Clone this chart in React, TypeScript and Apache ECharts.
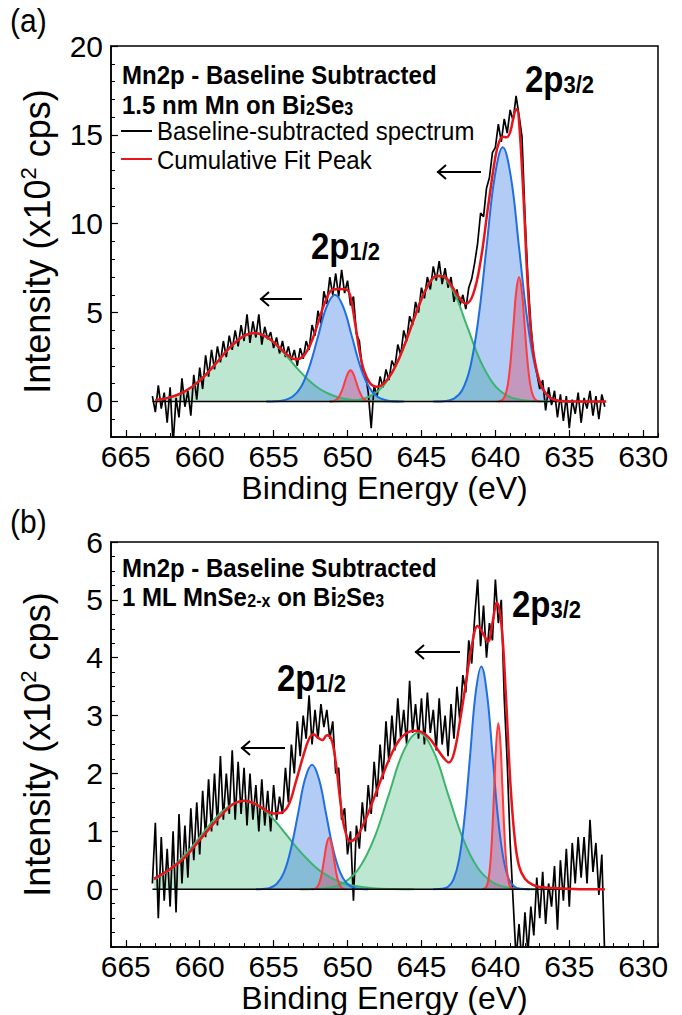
import React, { useEffect, useRef } from 'react';
import * as echarts from 'echarts';

const FONT = '"Liberation Sans", Arial, Helvetica, sans-serif';

const xTicks = [630, 635, 640, 645, 650, 655, 660, 665];
const yTicksA = [0, 5, 10, 15, 20];
const yTicksB = [0, 1, 2, 3, 4, 5, 6];

// ---------- Panel (a): 1.5 nm Mn on Bi2Se3 ----------
const aSpectrum = [[663.2,0.3],[663.0,-0.6],[662.8,0.9],[662.6,-0.4],[662.4,0.5],[662.2,-1.2],[662.0,0.8],[661.8,-2.4],[661.6,0.2],[661.4,-0.9],[661.2,1.3],[661.0,-0.3],[660.8,0.6],[660.6,-0.8],[660.4,1.5],[660.2,0.1],[660.0,1.9],[659.8,0.7],[659.6,2.6],[659.4,1.4],[659.2,2.9],[659.0,1.8],[658.8,3.1],[658.6,2.2],[658.4,3.4],[658.2,2.5],[658.0,3.7],[657.8,2.9],[657.6,4.0],[657.4,3.1],[657.2,4.3],[657.0,3.4],[656.8,4.9],[656.6,3.3],[656.4,4.5],[656.2,3.6],[656.0,4.9],[655.8,3.2],[655.6,4.2],[655.4,3.5],[655.2,3.9],[655.0,3.0],[654.8,3.6],[654.6,2.7],[654.4,3.4],[654.2,2.5],[654.0,3.1],[653.8,2.3],[653.6,2.9],[653.4,2.0],[653.2,3.0],[653.0,2.4],[652.8,3.4],[652.6,2.9],[652.4,4.3],[652.2,3.7],[652.0,5.1],[651.8,4.4],[651.6,6.2],[651.4,5.5],[651.2,7.0],[651.0,6.0],[650.8,7.2],[650.6,5.9],[650.4,7.4],[650.2,6.1],[650.0,6.8],[649.8,5.4],[649.6,5.9],[649.4,3.8],[649.2,3.4],[649.0,1.8],[648.8,1.6],[648.6,0.5],[648.4,-1.5],[648.2,0.9],[648.0,0.3],[647.8,1.4],[647.6,0.8],[647.4,1.8],[647.2,1.2],[647.0,2.3],[646.8,1.9],[646.6,3.2],[646.4,2.6],[646.2,4.0],[646.0,3.4],[645.8,4.8],[645.6,4.3],[645.4,5.6],[645.2,5.0],[645.0,6.4],[644.8,5.8],[644.6,7.0],[644.4,6.3],[644.2,7.6],[644.0,6.8],[643.8,7.9],[643.6,6.6],[643.4,7.5],[643.2,6.4],[643.0,7.0],[642.8,5.6],[642.6,6.3],[642.4,5.4],[642.2,6.0],[642.0,5.2],[641.8,6.4],[641.6,6.9],[641.4,7.8],[641.2,8.9],[641.0,10.6],[640.8,10.4],[640.6,12.0],[640.4,12.6],[640.2,14.0],[640.0,14.3],[639.8,15.6],[639.6,14.6],[639.4,15.9],[639.2,15.1],[639.0,16.4],[638.8,15.8],[638.6,17.2],[638.4,16.1],[638.2,14.9],[638.0,10.5],[637.8,6.9],[637.6,4.3],[637.4,2.5],[637.2,1.6],[637.0,0.7],[636.8,1.2],[636.6,-0.5],[636.4,0.8],[636.2,-0.2],[636.0,0.6],[635.8,-0.9],[635.6,0.4],[635.4,-1.1],[635.2,0.3],[635.0,-1.5],[634.8,0.1],[634.6,-0.7],[634.4,0.5],[634.2,-1.2],[634.0,0.2],[633.8,-0.4],[633.6,0.6],[633.4,-0.8],[633.2,0.3],[633.0,-1.0],[632.8,0.4],[632.6,-0.3]];

const aGreen1 = [[663,0.08],[662.3,0.17],[661.7,0.31],[661.1,0.52],[660.5,0.83],[659.9,1.25],[659.3,1.76],[658.7,2.34],[658.1,2.91],[657.5,3.40],[656.9,3.73],[656.3,3.85],[655.7,3.73],[655.1,3.40],[654.5,2.91],[653.9,2.34],[653.3,1.76],[652.7,1.25],[652.1,0.83],[651.5,0.52],[650.9,0.31],[650.3,0.17],[649.1,0.04],[647.9,0.01],[646.5,0]];
const aBlue1 = [[655.5,0],[654.88,0.01],[654.3,0.07],[653.73,0.26],[653.15,0.81],[652.58,1.95],[652.0,3.64],[651.43,5.30],[650.85,6.0],[650.28,5.30],[649.7,3.64],[649.13,1.95],[648.55,0.81],[647.98,0.26],[647.4,0.07],[646.83,0.01],[646.2,0]];
const aRed1 = [[651.2,0],[651.0,0.02],[650.8,0.08],[650.6,0.24],[650.4,0.57],[650.2,1.06],[650.0,1.54],[649.8,1.75],[649.6,1.54],[649.4,1.06],[649.2,0.57],[649.0,0.24],[648.8,0.08],[648.6,0.02],[648.4,0]];
const aGreen2 = [[651.2,0],[650.28,0.02],[649.35,0.08],[648.43,0.31],[647.5,0.96],[646.58,2.31],[645.65,4.31],[644.73,6.27],[643.8,7.1],[642.88,6.27],[641.95,4.31],[641.03,2.31],[640.1,0.96],[639.18,0.31],[638.25,0.08],[637.33,0.02],[636.4,0]];
const aBlue2 = [[644.2,0],[643.35,0.03],[642.8,0.16],[642.25,0.63],[641.7,1.93],[641.15,4.64],[640.6,8.67],[640.05,12.62],[639.5,14.3],[638.95,12.62],[638.4,8.67],[637.85,4.64],[637.3,1.93],[636.75,0.63],[636.2,0.16],[635.65,0.03],[634.8,0]];
const aRed2 = [[639.8,0],[639.54,0.08],[639.35,0.31],[639.16,0.95],[638.97,2.27],[638.78,4.25],[638.59,6.18],[638.4,7.0],[638.21,6.18],[638.02,4.25],[637.83,2.27],[637.64,0.95],[637.45,0.31],[637.26,0.08],[637.0,0]];
const aCumulative = [[663,0.08],[662,0.23],[661,0.57],[660,1.17],[659,2.04],[658,3.0],[657,3.69],[656.3,3.85],[655.5,3.64],[655,3.33],[654.5,2.95],[654,2.57],[653.5,2.37],[653,2.54],[652.5,3.24],[652,4.41],[651.5,5.63],[651,6.30],[650.5,6.33],[650,6.26],[649.75,5.67],[649.5,4.46],[649,2.06],[648.5,1.05],[648,0.83],[647.5,1.05],[647,1.61],[646.5,2.45],[646,3.50],[645.5,4.66],[645,5.75],[644.5,6.61],[644,7.06],[643.5,7.03],[643,6.56],[642.5,5.90],[642,5.50],[641.5,6.04],[641,7.90],[640.5,10.92],[640,13.76],[639.75,14.59],[639.5,14.89],[639.25,14.86],[639,15.16],[638.7,16.26],[638.55,16.46],[638.4,15.77],[638.1,11.54],[637.8,6.38],[637.5,3.17],[637,1.09],[636.5,0.35],[636,0.09],[635.5,0.02],[635,0],[632.5,0]];

// ---------- Panel (b): 1 ML MnSe2-x on Bi2Se3 ----------
const bSpectrum = [[663.2,0.1],[663.0,1.15],[662.8,-0.5],[662.6,0.9],[662.4,-0.2],[662.2,0.7],[662.0,-0.3],[661.8,1.0],[661.6,-0.4],[661.4,1.3],[661.2,0.1],[661.0,1.1],[660.8,0.2],[660.6,1.4],[660.4,0.5],[660.2,1.5],[660.0,0.6],[659.8,1.7],[659.6,0.9],[659.4,1.9],[659.2,1.0],[659.0,2.0],[658.8,1.1],[658.6,2.3],[658.4,1.2],[658.2,2.0],[658.0,1.3],[657.8,2.4],[657.6,1.2],[657.4,2.2],[657.2,1.3],[657.0,2.1],[656.8,1.1],[656.6,2.0],[656.4,1.2],[656.2,1.8],[656.0,1.0],[655.8,1.9],[655.6,1.1],[655.4,1.7],[655.2,1.0],[655.0,1.8],[654.8,1.2],[654.6,1.6],[654.4,1.3],[654.2,2.1],[654.0,1.5],[653.8,2.5],[653.6,2.0],[653.4,2.9],[653.2,2.3],[653.0,3.0],[652.8,2.6],[652.6,3.35],[652.4,2.5],[652.2,3.1],[652.0,2.6],[651.8,3.2],[651.6,2.8],[651.4,3.1],[651.2,2.6],[651.0,2.9],[650.8,2.0],[650.6,2.1],[650.4,1.2],[650.2,1.4],[650.0,0.6],[649.8,1.0],[649.6,-0.2],[649.4,1.1],[649.2,0.7],[649.0,1.5],[648.8,1.0],[648.6,1.8],[648.4,1.3],[648.2,2.2],[648.0,1.6],[647.8,2.5],[647.6,1.9],[647.4,2.9],[647.2,2.2],[647.0,3.0],[646.8,2.4],[646.6,3.3],[646.4,2.6],[646.2,3.1],[646.0,2.5],[645.8,3.6],[645.6,2.7],[645.4,3.2],[645.2,2.6],[645.0,3.3],[644.8,2.5],[644.6,3.4],[644.4,2.7],[644.2,3.1],[644.0,2.4],[643.8,3.3],[643.6,2.5],[643.4,3.0],[643.2,2.3],[643.0,3.2],[642.8,2.6],[642.6,3.5],[642.4,2.9],[642.2,3.7],[642.0,3.4],[641.8,4.3],[641.6,3.9],[641.4,4.7],[641.2,5.35],[641.0,4.2],[640.8,4.9],[640.6,4.0],[640.4,4.6],[640.2,4.3],[640.0,5.35],[639.8,4.6],[639.6,5.0],[639.4,3.3],[639.2,2.2],[639.0,0.8],[638.8,-0.2],[638.6,-1.2],[638.4,-0.6],[638.2,-1.3],[638.0,-0.4],[637.8,-1.1],[637.6,-0.3],[637.4,-0.8],[637.2,0.2],[637.0,-0.5],[636.8,0.3],[636.6,-0.6],[636.4,0.1],[636.2,-0.3],[636.0,0.4],[635.8,-0.7],[635.6,0.5],[635.4,-0.2],[635.2,0.7],[635.0,-0.3],[634.8,0.8],[634.6,0.1],[634.4,0.9],[634.2,0.2],[634.0,0.9],[633.8,0.1],[633.6,1.2],[633.4,0.3],[633.2,0.8],[633.0,-0.1],[632.8,0.6],[632.6,-1.2]];

const bGreen1 = [[663.1,0.17],[662.8,0.21],[662.08,0.33],[661.35,0.50],[660.63,0.70],[659.9,0.93],[659.18,1.16],[658.45,1.35],[657.73,1.48],[657.0,1.53],[656.28,1.48],[655.55,1.35],[654.83,1.16],[654.1,0.93],[653.38,0.70],[652.65,0.50],[651.93,0.33],[651.2,0.21],[650.48,0.12],[649.75,0.067],[648.3,0.017],[646.85,0.003],[645.5,0]];
const bBlue1 = [[656.2,0],[655.73,0.005],[655.25,0.024],[654.78,0.094],[654.3,0.29],[653.83,0.70],[653.35,1.30],[652.88,1.90],[652.4,2.15],[651.93,1.90],[651.45,1.30],[650.98,0.70],[650.5,0.29],[650.03,0.094],[649.55,0.024],[649.08,0.005],[648.6,0]];
const bRed1 = [[652.4,0],[652.21,0.01],[652.05,0.039],[651.89,0.12],[651.73,0.29],[651.57,0.54],[651.41,0.785],[651.25,0.89],[651.09,0.785],[650.93,0.54],[650.77,0.29],[650.61,0.12],[650.45,0.039],[650.29,0.01],[650.1,0]];
const bGreen2 = [[653.2,0],[652.2,0.006],[651.2,0.03],[650.2,0.12],[649.2,0.37],[648.2,0.88],[647.2,1.64],[646.2,2.39],[645.2,2.71],[644.2,2.39],[643.2,1.64],[642.2,0.88],[641.2,0.37],[640.2,0.12],[639.2,0.03],[638.2,0.006],[637.2,0]];
const bBlue2 = [[644.2,0],[643.58,0.008],[643.2,0.043],[642.83,0.17],[642.45,0.52],[642.08,1.25],[641.7,2.34],[641.33,3.40],[640.95,3.85],[640.58,3.40],[640.2,2.34],[639.83,1.25],[639.45,0.52],[639.08,0.17],[638.7,0.043],[638.33,0.008],[637.7,0]];
const bRed2 = [[640.85,0],[640.64,0.032],[640.5,0.126],[640.36,0.39],[640.22,0.93],[640.08,1.74],[639.94,2.53],[639.8,2.87],[639.66,2.53],[639.52,1.74],[639.38,0.93],[639.24,0.39],[639.1,0.126],[638.96,0.032],[638.75,0]];
const bCumulative = [[663.1,0.18],[662,0.35],[661,0.55],[660,0.85],[659,1.15],[658,1.42],[657.5,1.50],[657,1.53],[656.5,1.50],[656,1.44],[655.5,1.36],[655,1.31],[654.5,1.32],[654,1.45],[653.5,1.85],[653,2.30],[652.6,2.60],[652.3,2.68],[652,2.62],[651.7,2.58],[651.4,2.66],[651.1,2.60],[650.8,2.20],[650.5,1.55],[650.2,1.05],[649.8,0.83],[649.4,0.90],[649,1.08],[648.5,1.38],[648,1.72],[647.5,2.05],[647,2.35],[646.5,2.58],[646,2.70],[645.5,2.74],[645,2.72],[644.5,2.62],[644,2.45],[643.5,2.27],[643.15,2.19],[642.8,2.35],[642.4,2.9],[642,3.55],[641.6,4.2],[641.2,4.55],[640.9,4.45],[640.5,4.28],[640.2,4.6],[639.9,4.95],[639.6,4.6],[639.3,3.4],[639.0,1.9],[638.7,0.9],[638.4,0.4],[638,0.18],[637.5,0.08],[637,0.04],[636,0.02],[634,0],[632.6,0]];

const baseline = [[663.2, 0], [632.6, 0]];

const GREEN = '#3cb46e';
const GREEN_FILL = 'rgba(60,185,115,0.48)';
const BLUE = '#1f6fe0';
const BLUE_FILL = 'rgba(35,110,230,0.5)';
const RED = '#ff3b3b';
const RED_FILL = 'rgba(225,55,85,0.5)';
const CUM = '#e8141b';

function comp(data: number[][], line: string, fill: string, xi: number) {
  return {
    type: 'line', data, xAxisIndex: xi, yAxisIndex: xi, smooth: 0.4, symbol: 'none', silent: true,
    lineStyle: { color: line, width: 2 }, areaStyle: { color: fill, origin: 'auto' },
  };
}

function panelSeries(spec: number[][], comps: number[][][], cum: number[][], xi: number, specName: string, cumName: string) {
  const [g1, b1, r1, g2, b2, r2] = comps;
  return [
    { type: 'line', name: specName, data: spec, xAxisIndex: xi, yAxisIndex: xi, symbol: 'none', silent: true, lineStyle: { color: '#000', width: 1.7 } },
    comp(g1, GREEN, GREEN_FILL, xi),
    comp(g2, GREEN, GREEN_FILL, xi),
    comp(b1, BLUE, BLUE_FILL, xi),
    comp(b2, BLUE, BLUE_FILL, xi),
    comp(r1, RED, RED_FILL, xi),
    comp(r2, RED, RED_FILL, xi),
    { type: 'line', data: baseline, xAxisIndex: xi, yAxisIndex: xi, symbol: 'none', silent: true, lineStyle: { color: '#000', width: 1.5 } },
    { type: 'line', name: cumName, data: cum, xAxisIndex: xi, yAxisIndex: xi, smooth: 0.4, symbol: 'none', silent: true, lineStyle: { color: CUM, width: 2.5 } },
  ];
}

function xAxes(gi: number) {
  return [
    {
      gridIndex: gi, type: 'value', min: 629, max: 666, inverse: true, position: 'bottom',
      axisLine: { show: true, onZero: false, lineStyle: { color: '#000', width: 1.5 } },
      axisTick: { show: true, inside: true, length: 7, customValues: xTicks, lineStyle: { color: '#000', width: 1.2 } },
      axisLabel: { customValues: xTicks, fontSize: 30, color: '#000', fontFamily: FONT, margin: 4 },
      splitLine: { show: false },
      name: 'Binding Energy (eV)', nameLocation: 'middle', nameGap: 34,
      nameTextStyle: { fontSize: 32, color: '#000', fontFamily: FONT, verticalAlign: 'top' },
    },
    {
      gridIndex: gi, type: 'value', min: 629, max: 666, interval: 1, inverse: true, position: 'bottom',
      axisLine: { show: false, onZero: false },
      axisTick: { show: true, inside: true, length: 4, lineStyle: { color: '#000', width: 1 } },
      axisLabel: { show: false }, splitLine: { show: false },
    },
  ];
}

function yAxes(gi: number, min: number, max: number, ticks: number[], minorInt: number) {
  return [
    {
      gridIndex: gi, type: 'value', min, max, position: 'left',
      axisLine: { show: true, onZero: false, lineStyle: { color: '#000', width: 1.5 } },
      axisTick: { show: true, inside: true, length: 7, customValues: ticks, lineStyle: { color: '#000', width: 1.2 } },
      axisLabel: { customValues: ticks, fontSize: 30, color: '#000', fontFamily: FONT, margin: 8 },
      splitLine: { show: false },
      name: 'Intensity (x10{sup|2} cps)', nameLocation: 'middle', nameGap: 54, nameRotate: 90,
      nameTextStyle: {
        fontSize: 36, color: '#000', fontFamily: FONT, lineHeight: 40,
        rich: { sup: { fontSize: 22, fontFamily: FONT, color: '#000', verticalAlign: 'top', lineHeight: 25 } },
      },
    },
    {
      gridIndex: gi, type: 'value', min, max, interval: minorInt, position: 'left',
      axisLine: { show: false, onZero: false },
      axisTick: { show: true, inside: true, length: 4, lineStyle: { color: '#000', width: 1 } },
      axisLabel: { show: false }, splitLine: { show: false },
    },
  ];
}

// m: main text (padded below so the line box extends under it), s: subscript sitting at the bottom
const subRich = {
  m: { fontSize: 24, fontWeight: 'bold', fontFamily: FONT, fill: '#000', color: '#000', verticalAlign: 'top', lineHeight: 24, padding: [0, 0, 5, 0] },
  s: { fontSize: 16, fontWeight: 'bold', fontFamily: FONT, fill: '#000', color: '#000', verticalAlign: 'bottom', lineHeight: 16 },
};
const bigRich = {
  m: { fontSize: 33, fontWeight: 'bold', fontFamily: FONT, fill: '#000', color: '#000', verticalAlign: 'top', lineHeight: 33, padding: [0, 0, 6, 0] },
  s: { fontSize: 22, fontWeight: 'bold', fontFamily: FONT, fill: '#000', color: '#000', verticalAlign: 'bottom', lineHeight: 22 },
};

// Reference artwork is slightly taller than wide: texts get a vertical stretch.
function txt(text: string, x: number, y: number, size: number, weight: string, lh: number, rich?: any) {
  return {
    type: 'text', x, y, scaleY: 1.1, silent: true,
    style: {
      text, fill: '#000', fontSize: size, fontWeight: weight, fontFamily: FONT,
      align: 'left', textAlign: 'left', verticalAlign: 'middle', textVerticalAlign: 'middle',
      lineHeight: lh, rich,
    },
  };
}

function arrow(x1: number, x2: number, y: number) {
  return {
    type: 'group', silent: true,
    children: [
      { type: 'line', shape: { x1, y1: y, x2, y2: y }, style: { stroke: '#000', lineWidth: 2 } },
      { type: 'polyline', shape: { points: [[x2 + 9, y - 7], [x2 + 1, y], [x2 + 9, y + 7]] }, style: { stroke: '#000', lineWidth: 2, fill: 'none' } },
    ],
  };
}

export default function App() {
  const ref = useRef<HTMLDivElement>(null);
  useEffect(() => {
    if (!ref.current) return;
    const chart = echarts.init(ref.current, undefined, { renderer: 'svg' });
    const option: any = {
      animation: false,
      backgroundColor: '#fff',
      grid: [
        { left: 111, top: 46, width: 547, height: 391, show: true, borderColor: '#000', borderWidth: 1.5, backgroundColor: 'transparent' },
        { left: 111, top: 542, width: 547, height: 411, show: true, borderColor: '#000', borderWidth: 1.5, backgroundColor: 'transparent' },
      ],
      xAxis: [...xAxes(0), ...xAxes(1)],
      yAxis: [...yAxes(0, -2, 20, yTicksA, 1), ...yAxes(1, -1, 6, yTicksB, 0.25)],
      series: [
        ...panelSeries(aSpectrum, [aGreen1, aBlue1, aRed1, aGreen2, aBlue2, aRed2], aCumulative, 0, 'Baseline-subtracted spectrum', 'Cumulative Fit Peak'),
        ...panelSeries(bSpectrum, [bGreen1, bBlue1, bRed1, bGreen2, bBlue2, bRed2], bCumulative, 2, 'Spectrum (b)', 'Cumulative (b)'),
      ],
      graphic: [
        txt('(a)', 10, 20, 30, 'normal', 32),
        txt('(b)', 10, 521, 30, 'normal', 32),
        txt('Mn2p - Baseline Subtracted', 122, 75, 24, 'bold', 24),
        txt('{m|1.5 nm Mn on Bi}{s|2}{m|Se}{s|3}', 122, 105, 24, 'bold', 24, subRich),
        { type: 'line', silent: true, shape: { x1: 121, y1: 131, x2: 152, y2: 131 }, style: { stroke: '#000', lineWidth: 2 } },
        txt('Baseline-subtracted spectrum', 157, 131, 24, 'normal', 24),
        { type: 'line', silent: true, shape: { x1: 121, y1: 159, x2: 152, y2: 159 }, style: { stroke: CUM, lineWidth: 2 } },
        txt('Cumulative Fit Peak', 157, 160, 24, 'normal', 24),
        txt('{m|2p}{s|3/2}', 525, 79, 33, 'bold', 33, bigRich),
        txt('{m|2p}{s|1/2}', 311, 246, 33, 'bold', 33, bigRich),
        arrow(481, 437, 172),
        arrow(302, 260, 299),
        txt('Mn2p - Baseline Subtracted', 122, 568, 24, 'bold', 24),
        txt('{m|1 ML MnSe}{s|2-x}{m| on Bi}{s|2}{m|Se}{s|3}', 122, 597, 24, 'bold', 24, subRich),
        txt('{m|2p}{s|3/2}', 512, 604, 33, 'bold', 33, bigRich),
        txt('{m|2p}{s|1/2}', 277, 678, 33, 'bold', 33, bigRich),
        arrow(460, 415, 652),
        arrow(285, 241, 748),
      ],
    };
    chart.setOption(option);
    return () => chart.dispose();
  }, []);
  return <div ref={ref} style={{ position: 'absolute', left: 0, top: 0, width: 682, height: 1015 }} />;
}
